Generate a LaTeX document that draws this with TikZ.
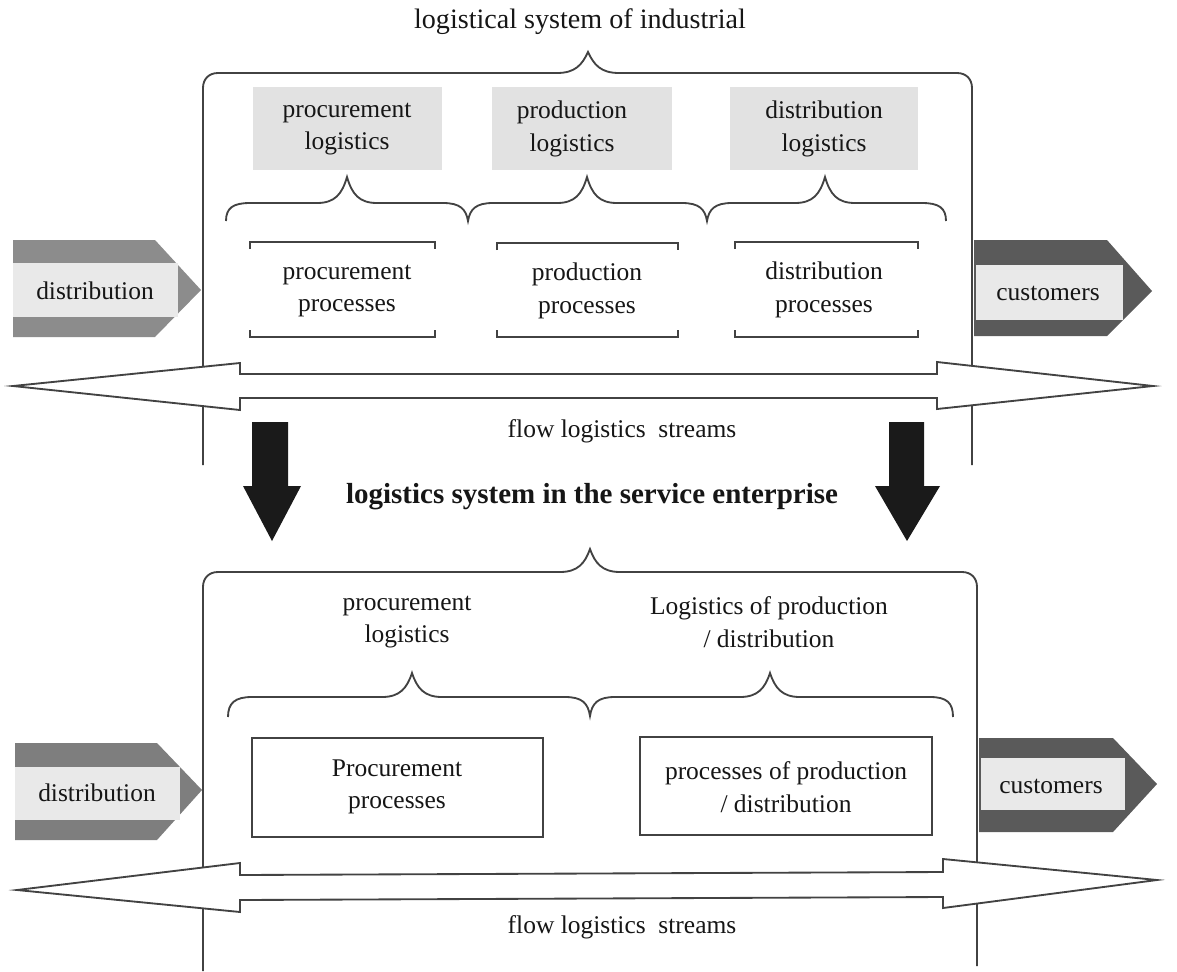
\documentclass[tikz,border=0pt]{standalone}
\usepackage{fontspec}
\setmainfont{Liberation Serif}
\definecolor{linegray}{HTML}{424242}
\definecolor{textgray}{HTML}{161616}
\definecolor{boxgray}{HTML}{E2E2E2}
\definecolor{bandlight}{HTML}{E9E9E9}
\definecolor{bandmid}{HTML}{8C8C8C}
\definecolor{banddark}{HTML}{5A5A5A}
\definecolor{arrowblack}{HTML}{1A1A1A}
\tikzset{
  frameline/.style={draw=linegray, line width=1.05pt},
  txt/.style={font=\fontsize{14.5}{18.5}\selectfont, align=center, text=textgray, inner sep=0pt},
  titletxt/.style={font=\fontsize{16}{19}\selectfont, align=center, text=textgray, inner sep=0pt},
  boldtxt/.style={font=\fontsize{16.5}{19}\selectfont\bfseries, align=center, text=textgray, inner sep=0pt},
  flowtxt/.style={font=\fontsize{14.5}{17.5}\selectfont, align=center, text=textgray, inner sep=0pt},
  shadebox/.style={fill=boxgray, draw=none},
  flowarrow/.style={draw=linegray, line width=1.05pt, fill=white, line join=miter},
  downarrow/.style={fill=arrowblack, draw=none},
  bandinner/.style={fill=bandlight, draw=none},
  procbox/.style={draw=linegray, line width=1.05pt, fill=white},
}
\begin{document}
\begin{tikzpicture}[x=0.02cm, y=-0.02cm]
\useasboundingbox (0,0) rectangle (1177,971);
\fill[white] (0,0) rectangle (1177,971);

% ================= TOP SYSTEM =================
\node[titletxt] (title1) at (580,22) {logistical system of industrial};

% frame with brace peak
\draw[frameline] (203,465) -- (203,88) .. controls (203,79) and (209,73) .. (218,73)
  -- (557,73) .. controls (575,73) and (582,65) .. (588,52)
  .. controls (594,65) and (601,73) .. (619,73)
  -- (957,73) .. controls (966,73) and (972,79) .. (972,88) -- (972,465);

% shaded logistics boxes
\fill[shadebox] (253,87) rectangle (442,170);
\fill[shadebox] (492,87) rectangle (672,170);
\fill[shadebox] (730,87) rectangle (918,170);
\node[txt] (plog) at (347,129) {procurement\\logistics};
\node[txt] (prodlog) at (572,129) {production\\logistics};
\node[txt] (dlog) at (824,129) {distribution\\logistics};

% three braces
\draw[frameline] (226,221) .. controls (226,208) and (233,203) .. (250,203) -- (317,203)
  .. controls (335,203) and (342,194) .. (347,177)
  .. controls (352,194) and (359,203) .. (377,203) -- (443,203)
  .. controls (460,203) and (466,209) .. (468,221)
  .. controls (470,209) and (476,203) .. (493,203) -- (557,203)
  .. controls (575,203) and (582,194) .. (587,177)
  .. controls (592,194) and (599,203) .. (617,203) -- (682,203)
  .. controls (699,203) and (705,209) .. (707,221)
  .. controls (709,209) and (715,203) .. (732,203) -- (795,203)
  .. controls (813,203) and (820,194) .. (825,177)
  .. controls (830,194) and (837,203) .. (855,203) -- (922,203)
  .. controls (939,203) and (946,208) .. (946,221);

% process brackets
\draw[frameline] (250,249) -- (250,242) -- (435,242) -- (435,249);
\draw[frameline] (250,330) -- (250,337) -- (435,337) -- (435,330);
\node[txt] (pproc) at (347,291) {procurement\\processes};
\draw[frameline] (497,250) -- (497,243) -- (678,243) -- (678,250);
\draw[frameline] (497,330) -- (497,337) -- (678,337) -- (678,330);
\node[txt] (prodproc) at (587,291) {production\\processes};
\draw[frameline] (735,249) -- (735,242) -- (918,242) -- (918,249);
\draw[frameline] (735,330) -- (735,337) -- (918,337) -- (918,330);
\node[txt] (dproc) at (824,290) {distribution\\processes};

% distribution arrow (left)
\fill[bandmid] (13,240) -- (155,240) -- (201,290) -- (155,337) -- (13,337) -- cycle;
\fill[bandinner] (13,263) rectangle (178,317);
\node[txt] (distA) at (95,291) {distribution};

% customers arrow (right)
\fill[banddark] (974,240) -- (1107,240) -- (1152,291) -- (1107,336) -- (974,336) -- cycle;
\fill[bandinner] (976,265) rectangle (1123,320);
\node[txt] (custA) at (1048,293) {customers};

% flow double arrow
\draw[flowarrow] (13,386) -- (240,363) -- (240,374) -- (937,374) -- (937,362) -- (1153,386)
  -- (937,409) -- (937,398) -- (240,398) -- (240,410) -- cycle;
\node[flowtxt] (flow1) at (622,431) {flow logistics\ \ streams};

% ================= TRANSITION =================
\fill[downarrow] (252,422) -- (288,422) -- (288,486) -- (301,486) -- (272,541) -- (243,486) -- (252,486) -- cycle;
\fill[downarrow] (889,422) -- (924,422) -- (924,486) -- (940,486) -- (907,541) -- (875,486) -- (889,486) -- cycle;
\node[boldtxt] (title2) at (592,497) {logistics system in the service enterprise};

% ================= BOTTOM SYSTEM =================
\draw[frameline] (203,971) -- (203,587) .. controls (203,578) and (209,572) .. (218,572)
  -- (560,572) .. controls (578,572) and (585,563) .. (590,549)
  .. controls (595,563) and (602,572) .. (620,572)
  -- (962,572) .. controls (971,572) and (977,578) .. (977,587) -- (977,966);

\node[txt] (plog2) at (407,622) {procurement\\logistics};
\node[txt] (pdlog2) at (769,622) {Logistics of production\\/ distribution};

% two braces
\draw[frameline] (228,717) .. controls (228,703) and (235,697) .. (252,697) -- (382,697)
  .. controls (400,697) and (407,688) .. (412,673)
  .. controls (417,688) and (424,697) .. (442,697) -- (565,697)
  .. controls (582,697) and (588,703) .. (590,716)
  .. controls (592,703) and (598,697) .. (615,697) -- (740,697)
  .. controls (758,697) and (765,688) .. (770,673)
  .. controls (775,688) and (782,697) .. (800,697) -- (930,697)
  .. controls (947,697) and (953,703) .. (953,717);

% process boxes
\draw[procbox] (252,738) rectangle (543,837);
\node[txt] (pproc2) at (397,787) {Procurement\\processes};
\draw[procbox] (640,737) rectangle (932,835);
\node[txt] (pdproc2) at (786,787) {processes of production\\/ distribution};

% distribution arrow (left, bottom)
\fill[bandmid!90!black] (15,743) -- (157,743) -- (202,790) -- (157,840) -- (15,840) -- cycle;
\fill[bandinner] (15,767) rectangle (180,820);
\node[txt] (distB) at (97,793) {distribution};

% customers arrow (right, bottom)
\fill[banddark] (979,738) -- (1113,738) -- (1157,784) -- (1113,832) -- (979,832) -- cycle;
\fill[bandinner] (981,758) rectangle (1125,810);
\node[txt] (custB) at (1051,786) {customers};

% flow double arrow (bottom)
\draw[flowarrow] (17,890) -- (240,863) -- (240,875) -- (943,872) -- (943,859) -- (1157,880)
  -- (943,908) -- (943,897) -- (240,900) -- (240,912) -- cycle;
\node[flowtxt] (flow2) at (622,927) {flow logistics\ \ streams};
\end{tikzpicture}
\end{document}
